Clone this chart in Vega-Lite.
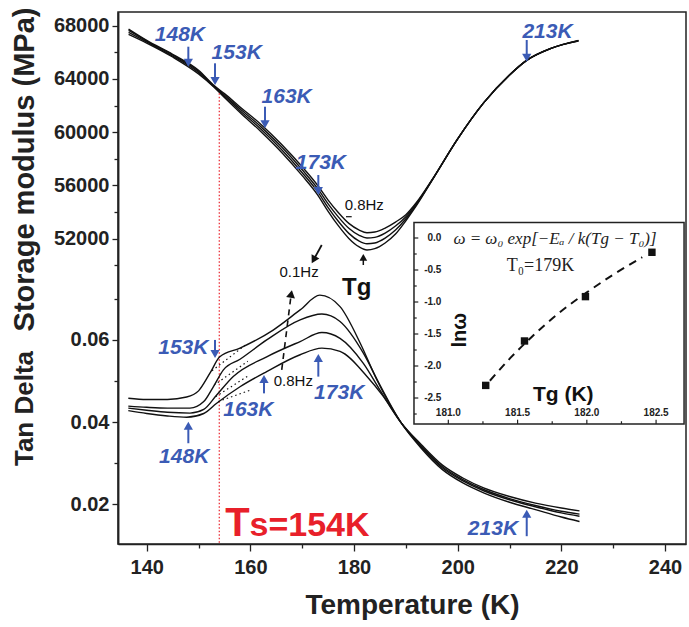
{
"$schema": "https://vega.github.io/schema/vega-lite/v6.json",
"width": 568,
"height": 532,
"autosize": {"type": "none"},
"padding": {"left": 118, "top": 12, "right": 3, "bottom": 83},
"background": "white",
"config": {
  "view": {"stroke": "#222", "strokeWidth": 1.5},
  "axis": {"domainColor": "#222", "domainWidth": 1.5, "tickColor": "#222", "tickWidth": 1.3, "labelColor": "#222", "labelFont": "Liberation Sans", "labelFontWeight": "bold", "labelFontSize": 20, "titleFont": "Liberation Sans", "titleFontWeight": "bold", "titleColor": "#222", "grid": false, "labelFlush": false, "labelOverlap": false},
  "text": {"font": "Liberation Sans"}
},
"datasets": {
  "mod": [
    {"f":"0.8Hz","T":136.5,"M":67750},{"f":"0.8Hz","T":140,"M":66900},{"f":"0.8Hz","T":145,"M":65850},{"f":"0.8Hz","T":150,"M":64650},{"f":"0.8Hz","T":153,"M":63500},{"f":"0.8Hz","T":155,"M":62900},{"f":"0.8Hz","T":158,"M":61900},{"f":"0.8Hz","T":162,"M":60600},{"f":"0.8Hz","T":166,"M":59100},{"f":"0.8Hz","T":170,"M":57400},{"f":"0.8Hz","T":173,"M":56000},{"f":"0.8Hz","T":175,"M":54900},{"f":"0.8Hz","T":177,"M":53950},{"f":"0.8Hz","T":179,"M":53150},{"f":"0.8Hz","T":181,"M":52650},{"f":"0.8Hz","T":182.5,"M":52450},{"f":"0.8Hz","T":184,"M":52500},{"f":"0.8Hz","T":186,"M":52800},{"f":"0.8Hz","T":188,"M":53250},{"f":"0.8Hz","T":190,"M":53800},{"f":"0.8Hz","T":192,"M":54700},{"f":"0.8Hz","T":195,"M":56400},{"f":"0.8Hz","T":200,"M":59500},{"f":"0.8Hz","T":205,"M":62200},{"f":"0.8Hz","T":210,"M":64300},{"f":"0.8Hz","T":213.3,"M":65400},{"f":"0.8Hz","T":218,"M":66300},{"f":"0.8Hz","T":223.3,"M":66900},
    {"f":"0.4Hz","T":136.5,"M":67650},{"f":"0.4Hz","T":140,"M":66850},{"f":"0.4Hz","T":145,"M":65800},{"f":"0.4Hz","T":150,"M":64580},{"f":"0.4Hz","T":153,"M":63460},{"f":"0.4Hz","T":155,"M":62800},{"f":"0.4Hz","T":158,"M":61760},{"f":"0.4Hz","T":162,"M":60420},{"f":"0.4Hz","T":166,"M":58900},{"f":"0.4Hz","T":170,"M":57180},{"f":"0.4Hz","T":173,"M":55760},{"f":"0.4Hz","T":175,"M":54620},{"f":"0.4Hz","T":177,"M":53620},{"f":"0.4Hz","T":179,"M":52780},{"f":"0.4Hz","T":181,"M":52250},{"f":"0.4Hz","T":182.5,"M":52050},{"f":"0.4Hz","T":184,"M":52100},{"f":"0.4Hz","T":186,"M":52420},{"f":"0.4Hz","T":188,"M":52950},{"f":"0.4Hz","T":190,"M":53650},{"f":"0.4Hz","T":192,"M":54620},{"f":"0.4Hz","T":195,"M":56380},{"f":"0.4Hz","T":200,"M":59500},{"f":"0.4Hz","T":205,"M":62200},{"f":"0.4Hz","T":210,"M":64300},{"f":"0.4Hz","T":213.3,"M":65400},{"f":"0.4Hz","T":218,"M":66300},{"f":"0.4Hz","T":223.3,"M":66880},
    {"f":"0.2Hz","T":136.5,"M":67500},{"f":"0.2Hz","T":140,"M":66780},{"f":"0.2Hz","T":145,"M":65720},{"f":"0.2Hz","T":150,"M":64480},{"f":"0.2Hz","T":153,"M":63420},{"f":"0.2Hz","T":155,"M":62700},{"f":"0.2Hz","T":158,"M":61620},{"f":"0.2Hz","T":162,"M":60240},{"f":"0.2Hz","T":166,"M":58700},{"f":"0.2Hz","T":170,"M":56960},{"f":"0.2Hz","T":173,"M":55520},{"f":"0.2Hz","T":175,"M":54340},{"f":"0.2Hz","T":177,"M":53290},{"f":"0.2Hz","T":179,"M":52400},{"f":"0.2Hz","T":181,"M":51820},{"f":"0.2Hz","T":182.5,"M":51620},{"f":"0.2Hz","T":184,"M":51680},{"f":"0.2Hz","T":186,"M":52050},{"f":"0.2Hz","T":188,"M":52650},{"f":"0.2Hz","T":190,"M":53500},{"f":"0.2Hz","T":192,"M":54540},{"f":"0.2Hz","T":195,"M":56360},{"f":"0.2Hz","T":200,"M":59500},{"f":"0.2Hz","T":205,"M":62200},{"f":"0.2Hz","T":210,"M":64300},{"f":"0.2Hz","T":213.3,"M":65400},{"f":"0.2Hz","T":218,"M":66300},{"f":"0.2Hz","T":223.3,"M":66860},
    {"f":"0.1Hz","T":136.5,"M":67350},{"f":"0.1Hz","T":140,"M":66700},{"f":"0.1Hz","T":145,"M":65650},{"f":"0.1Hz","T":150,"M":64380},{"f":"0.1Hz","T":153,"M":63380},{"f":"0.1Hz","T":155,"M":62600},{"f":"0.1Hz","T":158,"M":61480},{"f":"0.1Hz","T":162,"M":60060},{"f":"0.1Hz","T":166,"M":58500},{"f":"0.1Hz","T":170,"M":56740},{"f":"0.1Hz","T":173,"M":55280},{"f":"0.1Hz","T":175,"M":54060},{"f":"0.1Hz","T":177,"M":52960},{"f":"0.1Hz","T":179,"M":52020},{"f":"0.1Hz","T":181,"M":51380},{"f":"0.1Hz","T":182.5,"M":51150},{"f":"0.1Hz","T":184,"M":51250},{"f":"0.1Hz","T":186,"M":51680},{"f":"0.1Hz","T":188,"M":52350},{"f":"0.1Hz","T":190,"M":53350},{"f":"0.1Hz","T":192,"M":54460},{"f":"0.1Hz","T":195,"M":56340},{"f":"0.1Hz","T":200,"M":59500},{"f":"0.1Hz","T":205,"M":62200},{"f":"0.1Hz","T":210,"M":64300},{"f":"0.1Hz","T":213.3,"M":65400},{"f":"0.1Hz","T":218,"M":66300},{"f":"0.1Hz","T":223.3,"M":66840}
  ],
  "tan": [
    {"f":"0.1Hz","T":136.45,"tan":0.0458},{"f":"0.1Hz","T":140,"tan":0.0455},{"f":"0.1Hz","T":144,"tan":0.0455},{"f":"0.1Hz","T":147.7,"tan":0.0461},{"f":"0.1Hz","T":150,"tan":0.0476},{"f":"0.1Hz","T":152.2,"tan":0.0519},{"f":"0.1Hz","T":154.1,"tan":0.0559},{"f":"0.1Hz","T":158,"tan":0.058},{"f":"0.1Hz","T":164.4,"tan":0.0624},{"f":"0.1Hz","T":169.6,"tan":0.0673},{"f":"0.1Hz","T":173.4,"tan":0.0709},{"f":"0.1Hz","T":177.3,"tan":0.0681},{"f":"0.1Hz","T":181.2,"tan":0.0592},{"f":"0.1Hz","T":184.4,"tan":0.0503},{"f":"0.1Hz","T":189,"tan":0.04},{"f":"0.1Hz","T":193,"tan":0.0336},{"f":"0.1Hz","T":197,"tan":0.0285},{"f":"0.1Hz","T":201,"tan":0.0252},{"f":"0.1Hz","T":205,"tan":0.0228},{"f":"0.1Hz","T":210,"tan":0.0205},{"f":"0.1Hz","T":215,"tan":0.0187},{"f":"0.1Hz","T":220,"tan":0.0169},{"f":"0.1Hz","T":223.5,"tan":0.0158},
    {"f":"0.2Hz","T":136.45,"tan":0.0439},{"f":"0.2Hz","T":140,"tan":0.0436},{"f":"0.2Hz","T":144,"tan":0.0434},{"f":"0.2Hz","T":148.35,"tan":0.0434},{"f":"0.2Hz","T":151,"tan":0.045},{"f":"0.2Hz","T":152.85,"tan":0.0486},{"f":"0.2Hz","T":154.8,"tan":0.0527},{"f":"0.2Hz","T":158,"tan":0.0553},{"f":"0.2Hz","T":163.15,"tan":0.06},{"f":"0.2Hz","T":169.6,"tan":0.0649},{"f":"0.2Hz","T":173.8,"tan":0.0663},{"f":"0.2Hz","T":177.3,"tan":0.0645},{"f":"0.2Hz","T":181.8,"tan":0.0568},{"f":"0.2Hz","T":185,"tan":0.049},{"f":"0.2Hz","T":189,"tan":0.04},{"f":"0.2Hz","T":193,"tan":0.0339},{"f":"0.2Hz","T":197,"tan":0.0289},{"f":"0.2Hz","T":201,"tan":0.0257},{"f":"0.2Hz","T":205,"tan":0.0233},{"f":"0.2Hz","T":210,"tan":0.0211},{"f":"0.2Hz","T":215,"tan":0.0194},{"f":"0.2Hz","T":220,"tan":0.0179},{"f":"0.2Hz","T":223.5,"tan":0.0171},
    {"f":"0.4Hz","T":136.45,"tan":0.0434},{"f":"0.4Hz","T":140,"tan":0.0429},{"f":"0.4Hz","T":144,"tan":0.0424},{"f":"0.4Hz","T":148.35,"tan":0.0422},{"f":"0.4Hz","T":151,"tan":0.0431},{"f":"0.4Hz","T":153.5,"tan":0.0466},{"f":"0.4Hz","T":156.7,"tan":0.0511},{"f":"0.4Hz","T":163.15,"tan":0.0559},{"f":"0.4Hz","T":169.6,"tan":0.0596},{"f":"0.4Hz","T":173.8,"tan":0.0618},{"f":"0.4Hz","T":177.3,"tan":0.0604},{"f":"0.4Hz","T":181.8,"tan":0.0543},{"f":"0.4Hz","T":185,"tan":0.0478},{"f":"0.4Hz","T":189,"tan":0.04},{"f":"0.4Hz","T":193,"tan":0.0342},{"f":"0.4Hz","T":197,"tan":0.0292},{"f":"0.4Hz","T":201,"tan":0.026},{"f":"0.4Hz","T":205,"tan":0.0236},{"f":"0.4Hz","T":210,"tan":0.0214},{"f":"0.4Hz","T":215,"tan":0.0197},{"f":"0.4Hz","T":220,"tan":0.0183},{"f":"0.4Hz","T":223.5,"tan":0.0176},
    {"f":"0.8Hz","T":136.45,"tan":0.0428},{"f":"0.8Hz","T":140,"tan":0.0421},{"f":"0.8Hz","T":144,"tan":0.0415},{"f":"0.8Hz","T":147.72,"tan":0.0412},{"f":"0.8Hz","T":151,"tan":0.0421},{"f":"0.8Hz","T":153.5,"tan":0.0446},{"f":"0.8Hz","T":158,"tan":0.0486},{"f":"0.8Hz","T":163.15,"tan":0.0523},{"f":"0.8Hz","T":169.6,"tan":0.0564},{"f":"0.8Hz","T":173.8,"tan":0.058},{"f":"0.8Hz","T":177.3,"tan":0.0572},{"f":"0.8Hz","T":182.5,"tan":0.0511},{"f":"0.8Hz","T":185.5,"tan":0.0465},{"f":"0.8Hz","T":189,"tan":0.04},{"f":"0.8Hz","T":193,"tan":0.0345},{"f":"0.8Hz","T":197,"tan":0.0296},{"f":"0.8Hz","T":201,"tan":0.0264},{"f":"0.8Hz","T":205,"tan":0.024},{"f":"0.8Hz","T":210,"tan":0.0219},{"f":"0.8Hz","T":215,"tan":0.0203},{"f":"0.8Hz","T":220,"tan":0.0191},{"f":"0.8Hz","T":223.5,"tan":0.0184}
  ],
  "tanDots": [
    {"s":1,"T":152.6,"tan":0.0525},{"s":1,"T":159.5,"tan":0.0592},
    {"s":2,"T":153.0,"tan":0.049},{"s":2,"T":159.5,"tan":0.0548},
    {"s":3,"T":153.3,"tan":0.0462},{"s":3,"T":159.5,"tan":0.0512},
    {"s":4,"T":153.8,"tan":0.045},{"s":4,"T":160.0,"tan":0.0478}
  ],
  "modArrows": [
    {"lab":"148K","T":148.03,"tail":66423,"head":65220},
    {"lab":"153K","T":153.18,"tail":65176,"head":63846},
    {"lab":"163K","T":162.82,"tail":61916,"head":60593},
    {"lab":"173K","T":173.11,"tail":56786,"head":55584},
    {"lab":"213K","T":213.32,"tail":66926,"head":65596}
  ],
  "modLabels": [
    {"lab":"148K","T":146.4,"M":67301},
    {"lab":"153K","T":157.36,"M":65927},
    {"lab":"163K","T":167.0,"M":62667},
    {"lab":"173K","T":173.6,"M":57664},
    {"lab":"213K","T":217.33,"M":67549}
  ],
  "tanArrows": [
    {"lab":"153K","dir":"down","T":153.18,"tail":0.06,"head":0.0566},
    {"lab":"148K","dir":"up","T":148.03,"tail":0.03486,"head":0.0391},
    {"lab":"163K","dir":"up","T":162.63,"tail":0.047,"head":0.0505},
    {"lab":"173K","dir":"up","T":173.11,"tail":0.05107,"head":0.0556},
    {"lab":"213K","dir":"up","T":213.32,"tail":0.01224,"head":0.0177}
  ],
  "tanLabels": [
    {"lab":"153K","T":147.06,"tan":0.05798},
    {"lab":"148K","T":147.23,"tan":0.0316},
    {"lab":"163K","T":159.6,"tan":0.04297},
    {"lab":"173K","T":177.14,"tan":0.047},
    {"lab":"213K","T":206.8,"tan":0.014}
  ],
  "inPts": [
    {"Tg":181.27,"ln":-2.303},{"Tg":181.55,"ln":-1.609},{"Tg":181.99,"ln":-0.916},{"Tg":182.47,"ln":-0.223}
  ],
  "inFit": [
    {"Tg":181.3,"ln":-2.23},{"Tg":181.45,"ln":-1.87},{"Tg":181.6,"ln":-1.55},{"Tg":181.8,"ln":-1.17},{"Tg":182.0,"ln":-0.85},{"Tg":182.2,"ln":-0.56},{"Tg":182.4,"ln":-0.3}
  ],
  "inYTicks": [
    {"ln":0,"major":1},{"ln":-0.25,"major":0},{"ln":-0.5,"major":1},{"ln":-0.75,"major":0},{"ln":-1,"major":1},{"ln":-1.25,"major":0},{"ln":-1.5,"major":1},{"ln":-1.75,"major":0},{"ln":-2,"major":1},{"ln":-2.25,"major":0},{"ln":-2.5,"major":1},{"ln":-2.75,"major":0}
  ],
  "inXTicks": [
    {"Tg":181,"major":1},{"Tg":181.25,"major":0},{"Tg":181.5,"major":1},{"Tg":181.75,"major":0},{"Tg":182,"major":1},{"Tg":182.25,"major":0},{"Tg":182.5,"major":1}
  ],
  "inYLabels": [
    {"lab":"0.0","ln":0},{"lab":"-0.5","ln":-0.5},{"lab":"-1.0","ln":-1},{"lab":"-1.5","ln":-1.5},{"lab":"-2.0","ln":-2},{"lab":"-2.5","ln":-2.5}
  ],
  "inXLabels": [
    {"lab":"181.0","Tg":181},{"lab":"181.5","Tg":181.5},{"lab":"182.0","Tg":182},{"lab":"182.5","Tg":182.5}
  ]
},
"layer": [
  {
    "layer": [
      {
        "layer": [
          {
            "data": {"name": "mod"},
            "mark": {"type": "line", "interpolate": "monotone", "stroke": "#111", "strokeWidth": 1.4},
            "encoding": {
              "x": {"field": "T", "type": "quantitative", "scale": {"domain": [134.46, 244.05], "nice": false, "zero": false},
                "axis": {"title": "Temperature (K)", "values": [140,150,160,170,180,190,200,210,220,230,240], "labelExpr": "datum.value % 20 === 0 ? datum.label : ''", "tickSize": {"condition": {"test": "datum.value % 20 === 0", "value": 7}, "value": 4}, "labelPadding": 6, "titleFontSize": 28, "titleX": 294, "titleY": 69, "titleBaseline": "alphabetic", "titleAlign": "center", "titleAngle": 0}},
              "y": {"field": "M", "type": "quantitative", "scale": {"domain": [29067, 69030], "nice": false, "zero": false},
                "axis": {"orient": "left", "title": "Storage modulus (MPa)", "values": [50000,52000,54000,56000,58000,60000,62000,64000,66000,68000], "format": "d", "labelExpr": "datum.value % 4000 === 0 ? datum.label : ''", "tickSize": {"condition": {"test": "datum.value % 4000 === 0", "value": 6}, "value": 4}, "labelPadding": 3, "titleFontSize": 29, "titleX": -85, "titleY": 157, "titleAngle": 270, "titleBaseline": "alphabetic", "titleAlign": "center"}},
              "detail": {"field": "f", "type": "nominal"}
            }
          },
          {
            "data": {"values": [{"T": 154, "top": 62922, "bot": 29067}]},
            "mark": {"type": "rule", "stroke": "#e8202a", "strokeWidth": 1.2, "strokeDash": [1.5, 2]},
            "encoding": {
              "x": {"field": "T", "type": "quantitative", "scale": {"domain": [134.46, 244.05], "nice": false, "zero": false}},
              "y": {"field": "top", "type": "quantitative", "scale": {"domain": [29067, 69030], "nice": false, "zero": false}},
              "y2": {"field": "bot"}
            }
          },
          {
            "data": {"name": "modArrows"},
            "mark": {"type": "rule", "stroke": "#3b5bb5", "strokeWidth": 2},
            "encoding": {
              "x": {"field": "T", "type": "quantitative", "scale": {"domain": [134.46, 244.05], "nice": false, "zero": false}},
              "y": {"field": "tail", "type": "quantitative", "scale": {"domain": [29067, 69030], "nice": false, "zero": false}},
              "y2": {"field": "head"}
            }
          },
          {
            "data": {"name": "modArrows"},
            "mark": {"type": "point", "shape": "triangle-down", "filled": true, "fill": "#3b5bb5", "stroke": null, "size": 85, "opacity": 1},
            "encoding": {
              "x": {"field": "T", "type": "quantitative", "scale": {"domain": [134.46, 244.05], "nice": false, "zero": false}},
              "y": {"field": "head", "type": "quantitative", "scale": {"domain": [29067, 69030], "nice": false, "zero": false}}
            }
          },
          {
            "data": {"name": "modLabels"},
            "mark": {"type": "text", "font": "Liberation Sans", "fontSize": 21, "fontWeight": "bold", "fontStyle": "italic", "fill": "#3b5bb5", "align": "center", "baseline": "middle"},
            "encoding": {
              "x": {"field": "T", "type": "quantitative", "scale": {"domain": [134.46, 244.05], "nice": false, "zero": false}},
              "y": {"field": "M", "type": "quantitative", "scale": {"domain": [29067, 69030], "nice": false, "zero": false}},
              "text": {"field": "lab"}
            }
          },
          {
            "data": {"values": [{"T": 181.79, "tail": 50025, "head": 50604}]},
            "mark": {"type": "rule", "stroke": "#111", "strokeWidth": 1.5},
            "encoding": {
              "x": {"field": "T", "type": "quantitative", "scale": {"domain": [134.46, 244.05], "nice": false, "zero": false}},
              "y": {"field": "tail", "type": "quantitative", "scale": {"domain": [29067, 69030], "nice": false, "zero": false}},
              "y2": {"field": "head"}
            }
          },
          {
            "data": {"values": [{"T": 181.79, "head": 50604}]},
            "mark": {"type": "point", "shape": "triangle-up", "filled": true, "fill": "#111", "stroke": null, "size": 60, "opacity": 1},
            "encoding": {
              "x": {"field": "T", "type": "quantitative", "scale": {"domain": [134.46, 244.05], "nice": false, "zero": false}},
              "y": {"field": "head", "type": "quantitative", "scale": {"domain": [29067, 69030], "nice": false, "zero": false}}
            }
          },
          {
            "data": {"values": [{"T": 173.77, "M": 51527, "T2": 172.2, "M2": 50416}]},
            "mark": {"type": "rule", "stroke": "#111", "strokeWidth": 1.8},
            "encoding": {
              "x": {"field": "T", "type": "quantitative", "scale": {"domain": [134.46, 244.05], "nice": false, "zero": false}},
              "y": {"field": "M", "type": "quantitative", "scale": {"domain": [29067, 69030], "nice": false, "zero": false}},
              "x2": {"field": "T2"},
              "y2": {"field": "M2"}
            }
          },
          {
            "data": {"values": [{"T": 172.2, "M": 50416}]},
            "mark": {"type": "point", "shape": "triangle-up", "angle": 209, "filled": true, "fill": "#111", "stroke": null, "size": 80, "opacity": 1},
            "encoding": {
              "x": {"field": "T", "type": "quantitative", "scale": {"domain": [134.46, 244.05], "nice": false, "zero": false}},
              "y": {"field": "M", "type": "quantitative", "scale": {"domain": [29067, 69030], "nice": false, "zero": false}}
            }
          },
          {
            "data": {"values": [{"T": 178.45, "T2": 179.55, "M": 53653}]},
            "mark": {"type": "rule", "stroke": "#111", "strokeWidth": 1.2},
            "encoding": {
              "x": {"field": "T", "type": "quantitative", "scale": {"domain": [134.46, 244.05], "nice": false, "zero": false}},
              "x2": {"field": "T2"},
              "y": {"field": "M", "type": "quantitative", "scale": {"domain": [29067, 69030], "nice": false, "zero": false}}
            }
          },
          {
            "data": {"values": [{"lab": "0.8Hz", "T": 181.97, "M": 54532}, {"lab": "0.1Hz", "T": 169.4, "M": 49522}]},
            "mark": {"type": "text", "font": "Liberation Sans", "fontSize": 15, "fill": "#111", "align": "center", "baseline": "middle"},
            "encoding": {
              "x": {"field": "T", "type": "quantitative", "scale": {"domain": [134.46, 244.05], "nice": false, "zero": false}},
              "y": {"field": "M", "type": "quantitative", "scale": {"domain": [29067, 69030], "nice": false, "zero": false}},
              "text": {"field": "lab"}
            }
          },
          {
            "data": {"values": [{"lab": "Tg", "T": 180.5, "M": 48275}]},
            "mark": {"type": "text", "font": "Liberation Sans", "fontSize": 24, "fontWeight": "bold", "fill": "#111", "align": "center", "baseline": "middle"},
            "encoding": {
              "x": {"field": "T", "type": "quantitative", "scale": {"domain": [134.46, 244.05], "nice": false, "zero": false}},
              "y": {"field": "M", "type": "quantitative", "scale": {"domain": [29067, 69030], "nice": false, "zero": false}},
              "text": {"field": "lab"}
            }
          }
        ]
      },
      {
        "layer": [
          {
            "data": {"name": "tan"},
            "mark": {"type": "line", "interpolate": "monotone", "stroke": "#111", "strokeWidth": 1.4},
            "encoding": {
              "x": {"field": "T", "type": "quantitative", "scale": {"domain": [134.46, 244.05], "nice": false, "zero": false}},
              "y": {"field": "tan", "type": "quantitative", "scale": {"domain": [0.01034, 0.1398], "nice": false, "zero": false},
                "axis": {"orient": "left", "title": "Tan Delta", "values": [0.02,0.03,0.04,0.05,0.06,0.07], "format": ".2f", "labelExpr": "round(datum.value*100) % 2 === 0 ? datum.label : ''", "tickSize": {"condition": {"test": "round(datum.value*100) % 2 === 0", "value": 6}, "value": 4}, "labelPadding": 3, "titleFontSize": 26, "titleX": -86, "titleY": 396, "titleAngle": 270, "titleBaseline": "alphabetic", "titleAlign": "center"}},
              "detail": {"field": "f", "type": "nominal"}
            }
          },
          {
            "data": {"name": "tanDots"},
            "mark": {"type": "line", "stroke": "#111", "strokeWidth": 1.2, "strokeDash": [1.5, 3]},
            "encoding": {
              "x": {"field": "T", "type": "quantitative", "scale": {"domain": [134.46, 244.05], "nice": false, "zero": false}},
              "y": {"field": "tan", "type": "quantitative", "scale": {"domain": [0.01034, 0.1398], "nice": false, "zero": false}},
              "detail": {"field": "s", "type": "nominal"}
            }
          },
          {
            "data": {"values": [{"T": 166.05, "tan": 0.0527, "T2": 167.88, "tan2": 0.07119}]},
            "mark": {"type": "rule", "stroke": "#111", "strokeWidth": 1.6, "strokeDash": [6, 5]},
            "encoding": {
              "x": {"field": "T", "type": "quantitative", "scale": {"domain": [134.46, 244.05], "nice": false, "zero": false}},
              "y": {"field": "tan", "type": "quantitative", "scale": {"domain": [0.01034, 0.1398], "nice": false, "zero": false}},
              "x2": {"field": "T2"},
              "y2": {"field": "tan2"}
            }
          },
          {
            "data": {"values": [{"T": 167.88, "tan": 0.07119}]},
            "mark": {"type": "point", "shape": "triangle-up", "angle": 10, "filled": true, "fill": "#111", "stroke": null, "size": 80, "opacity": 1},
            "encoding": {
              "x": {"field": "T", "type": "quantitative", "scale": {"domain": [134.46, 244.05], "nice": false, "zero": false}},
              "y": {"field": "tan", "type": "quantitative", "scale": {"domain": [0.01034, 0.1398], "nice": false, "zero": false}}
            }
          },
          {
            "data": {"values": [{"lab": "0.8Hz", "T": 168.29, "tan": 0.0499}]},
            "mark": {"type": "text", "font": "Liberation Sans", "fontSize": 15, "fill": "#111", "align": "center", "baseline": "middle"},
            "encoding": {
              "x": {"field": "T", "type": "quantitative", "scale": {"domain": [134.46, 244.05], "nice": false, "zero": false}},
              "y": {"field": "tan", "type": "quantitative", "scale": {"domain": [0.01034, 0.1398], "nice": false, "zero": false}},
              "text": {"field": "lab"}
            }
          },
          {
            "data": {"name": "tanArrows"},
            "mark": {"type": "rule", "stroke": "#3b5bb5", "strokeWidth": 2},
            "encoding": {
              "x": {"field": "T", "type": "quantitative", "scale": {"domain": [134.46, 244.05], "nice": false, "zero": false}},
              "y": {"field": "tail", "type": "quantitative", "scale": {"domain": [0.01034, 0.1398], "nice": false, "zero": false}},
              "y2": {"field": "head"}
            }
          },
          {
            "data": {"name": "tanArrows"},
            "transform": [{"filter": "datum.dir === 'up'"}],
            "mark": {"type": "point", "shape": "triangle-up", "filled": true, "fill": "#3b5bb5", "stroke": null, "size": 85, "opacity": 1},
            "encoding": {
              "x": {"field": "T", "type": "quantitative", "scale": {"domain": [134.46, 244.05], "nice": false, "zero": false}},
              "y": {"field": "head", "type": "quantitative", "scale": {"domain": [0.01034, 0.1398], "nice": false, "zero": false}}
            }
          },
          {
            "data": {"name": "tanArrows"},
            "transform": [{"filter": "datum.dir === 'down'"}],
            "mark": {"type": "point", "shape": "triangle-down", "filled": true, "fill": "#3b5bb5", "stroke": null, "size": 85, "opacity": 1},
            "encoding": {
              "x": {"field": "T", "type": "quantitative", "scale": {"domain": [134.46, 244.05], "nice": false, "zero": false}},
              "y": {"field": "head", "type": "quantitative", "scale": {"domain": [0.01034, 0.1398], "nice": false, "zero": false}}
            }
          },
          {
            "data": {"name": "tanLabels"},
            "mark": {"type": "text", "font": "Liberation Sans", "fontSize": 21, "fontWeight": "bold", "fontStyle": "italic", "fill": "#3b5bb5", "align": "center", "baseline": "middle"},
            "encoding": {
              "x": {"field": "T", "type": "quantitative", "scale": {"domain": [134.46, 244.05], "nice": false, "zero": false}},
              "y": {"field": "tan", "type": "quantitative", "scale": {"domain": [0.01034, 0.1398], "nice": false, "zero": false}},
              "text": {"field": "lab"}
            }
          },
          {
            "data": {"values": [{"lab": "T", "T": 155.17, "tan": 0.01224}]},
            "mark": {"type": "text", "font": "Liberation Sans", "fontSize": 40, "fontWeight": "bold", "fill": "#e8202a", "align": "left", "baseline": "alphabetic"},
            "encoding": {
              "x": {"field": "T", "type": "quantitative", "scale": {"domain": [134.46, 244.05], "nice": false, "zero": false}},
              "y": {"field": "tan", "type": "quantitative", "scale": {"domain": [0.01034, 0.1398], "nice": false, "zero": false}},
              "text": {"field": "lab"}
            }
          },
          {
            "data": {"values": [{"lab": "s=154K", "T": 159.83, "tan": 0.01224}]},
            "mark": {"type": "text", "font": "Liberation Sans", "fontSize": 34, "fontWeight": "bold", "fill": "#e8202a", "align": "left", "baseline": "alphabetic"},
            "encoding": {
              "x": {"field": "T", "type": "quantitative", "scale": {"domain": [134.46, 244.05], "nice": false, "zero": false}},
              "y": {"field": "tan", "type": "quantitative", "scale": {"domain": [0.01034, 0.1398], "nice": false, "zero": false}},
              "text": {"field": "lab"}
            }
          }
        ]
      }
    ],
    "resolve": {"scale": {"y": "independent"}, "axis": {"y": "independent"}}
  },
  {
    "layer": [
      {
        "data": {"values": [{"x1": 180.752, "x2": 182.702, "y1": -2.906, "y2": 0.242}]},
        "mark": {"type": "rect", "fill": "white", "stroke": "#222", "strokeWidth": 1.5},
        "encoding": {
          "x": {"field": "x1", "type": "quantitative", "scale": {"domain": [178.615, 182.716], "nice": false, "zero": false}, "axis": null},
          "x2": {"field": "x2"},
          "y": {"field": "y1", "type": "quantitative", "scale": {"domain": [-4.781, 3.531], "nice": false, "zero": false}, "axis": null},
          "y2": {"field": "y2"}
        }
      },
      {
        "data": {"name": "inYTicks"},
        "transform": [{"filter": "datum.major === 1"}],
        "mark": {"type": "point", "shape": "M0,0H1", "filled": false, "stroke": "#222", "strokeWidth": 1.2, "size": 74, "opacity": 1},
        "encoding": {
          "x": {"datum": 180.752, "type": "quantitative", "scale": {"domain": [178.615, 182.716], "nice": false, "zero": false}, "axis": null},
          "y": {"field": "ln", "type": "quantitative", "scale": {"domain": [-4.781, 3.531], "nice": false, "zero": false}, "axis": null}
        }
      },
      {
        "data": {"name": "inYTicks"},
        "transform": [{"filter": "datum.major === 0"}],
        "mark": {"type": "point", "shape": "M0,0H1", "filled": false, "stroke": "#222", "strokeWidth": 1.2, "size": 30, "opacity": 1},
        "encoding": {
          "x": {"datum": 180.752, "type": "quantitative", "scale": {"domain": [178.615, 182.716], "nice": false, "zero": false}, "axis": null},
          "y": {"field": "ln", "type": "quantitative", "scale": {"domain": [-4.781, 3.531], "nice": false, "zero": false}, "axis": null}
        }
      },
      {
        "data": {"name": "inXTicks"},
        "transform": [{"filter": "datum.major === 1"}],
        "mark": {"type": "point", "shape": "M0,0V-1", "filled": false, "stroke": "#222", "strokeWidth": 1.2, "size": 74, "opacity": 1},
        "encoding": {
          "x": {"field": "Tg", "type": "quantitative", "scale": {"domain": [178.615, 182.716], "nice": false, "zero": false}, "axis": null},
          "y": {"datum": -2.906, "type": "quantitative", "scale": {"domain": [-4.781, 3.531], "nice": false, "zero": false}, "axis": null}
        }
      },
      {
        "data": {"name": "inXTicks"},
        "transform": [{"filter": "datum.major === 0"}],
        "mark": {"type": "point", "shape": "M0,0V-1", "filled": false, "stroke": "#222", "strokeWidth": 1.2, "size": 30, "opacity": 1},
        "encoding": {
          "x": {"field": "Tg", "type": "quantitative", "scale": {"domain": [178.615, 182.716], "nice": false, "zero": false}, "axis": null},
          "y": {"datum": -2.906, "type": "quantitative", "scale": {"domain": [-4.781, 3.531], "nice": false, "zero": false}, "axis": null}
        }
      },
      {
        "data": {"name": "inYLabels"},
        "mark": {"type": "text", "font": "Liberation Sans", "fontSize": 10, "fontWeight": "bold", "fill": "#222", "align": "right", "baseline": "middle"},
        "encoding": {
          "x": {"datum": 180.95, "type": "quantitative", "scale": {"domain": [178.615, 182.716], "nice": false, "zero": false}, "axis": null},
          "y": {"field": "ln", "type": "quantitative", "scale": {"domain": [-4.781, 3.531], "nice": false, "zero": false}, "axis": null},
          "text": {"field": "lab"}
        }
      },
      {
        "data": {"name": "inXLabels"},
        "mark": {"type": "text", "font": "Liberation Sans", "fontSize": 10, "fontWeight": "bold", "fill": "#222", "align": "center", "baseline": "middle"},
        "encoding": {
          "x": {"field": "Tg", "type": "quantitative", "scale": {"domain": [178.615, 182.716], "nice": false, "zero": false}, "axis": null},
          "y": {"datum": -2.734, "type": "quantitative", "scale": {"domain": [-4.781, 3.531], "nice": false, "zero": false}, "axis": null},
          "text": {"field": "lab"}
        }
      },
      {
        "data": {"name": "inFit"},
        "mark": {"type": "line", "interpolate": "monotone", "stroke": "#111", "strokeWidth": 2, "strokeDash": [8, 6]},
        "encoding": {
          "x": {"field": "Tg", "type": "quantitative", "scale": {"domain": [178.615, 182.716], "nice": false, "zero": false}, "axis": null},
          "y": {"field": "ln", "type": "quantitative", "scale": {"domain": [-4.781, 3.531], "nice": false, "zero": false}, "axis": null}
        }
      },
      {
        "data": {"name": "inPts"},
        "mark": {"type": "point", "shape": "square", "filled": true, "fill": "#111", "stroke": null, "size": 55, "opacity": 1},
        "encoding": {
          "x": {"field": "Tg", "type": "quantitative", "scale": {"domain": [178.615, 182.716], "nice": false, "zero": false}, "axis": null},
          "y": {"field": "ln", "type": "quantitative", "scale": {"domain": [-4.781, 3.531], "nice": false, "zero": false}, "axis": null}
        }
      },
      {
        "data": {"values": [{"lab": "lnω", "Tg": 181.084, "ln": -1.44}]},
        "mark": {"type": "text", "font": "Liberation Sans", "fontSize": 20, "fontWeight": "bold", "fill": "#111", "align": "center", "baseline": "middle", "angle": 270},
        "encoding": {
          "x": {"field": "Tg", "type": "quantitative", "scale": {"domain": [178.615, 182.716], "nice": false, "zero": false}, "axis": null},
          "y": {"field": "ln", "type": "quantitative", "scale": {"domain": [-4.781, 3.531], "nice": false, "zero": false}, "axis": null},
          "text": {"field": "lab"}
        }
      },
      {
        "data": {"values": [{"lab": "Tg (K)", "Tg": 181.83, "ln": -2.45}]},
        "mark": {"type": "text", "font": "Liberation Sans", "fontSize": 21, "fontWeight": "bold", "fill": "#111", "align": "center", "baseline": "middle"},
        "encoding": {
          "x": {"field": "Tg", "type": "quantitative", "scale": {"domain": [178.615, 182.716], "nice": false, "zero": false}, "axis": null},
          "y": {"field": "ln", "type": "quantitative", "scale": {"domain": [-4.781, 3.531], "nice": false, "zero": false}, "axis": null},
          "text": {"field": "lab"}
        }
      },
      {
        "data": {"values": [{"lab": "ω = ω₀ exp[−Eₐ / k(Tg − T₀)]", "Tg": 181.77, "ln": -0.02}]},
        "mark": {"type": "text", "font": "Liberation Serif", "fontSize": 17, "fontStyle": "italic", "fill": "#222", "align": "center", "baseline": "middle"},
        "encoding": {
          "x": {"field": "Tg", "type": "quantitative", "scale": {"domain": [178.615, 182.716], "nice": false, "zero": false}, "axis": null},
          "y": {"field": "ln", "type": "quantitative", "scale": {"domain": [-4.781, 3.531], "nice": false, "zero": false}, "axis": null},
          "text": {"field": "lab"}
        }
      },
      {
        "data": {"values": [{"lab": "T₀=179K", "Tg": 181.665, "ln": -0.44}]},
        "mark": {"type": "text", "font": "Liberation Serif", "fontSize": 18, "fill": "#222", "align": "center", "baseline": "middle"},
        "encoding": {
          "x": {"field": "Tg", "type": "quantitative", "scale": {"domain": [178.615, 182.716], "nice": false, "zero": false}, "axis": null},
          "y": {"field": "ln", "type": "quantitative", "scale": {"domain": [-4.781, 3.531], "nice": false, "zero": false}, "axis": null},
          "text": {"field": "lab"}
        }
      }
    ]
  }
],
"resolve": {"scale": {"x": "independent", "y": "independent"}, "axis": {"x": "independent", "y": "independent"}}
}
